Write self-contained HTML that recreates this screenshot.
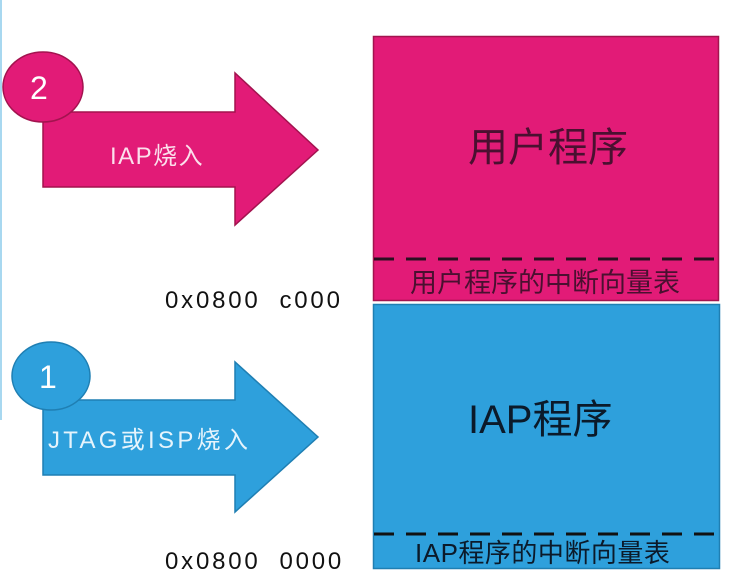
<!DOCTYPE html>
<html><head><meta charset="utf-8"><style>
body{margin:0;width:730px;height:580px;background:#fff;position:relative;overflow:hidden;font-family:"Liberation Sans","Noto Sans CJK SC",sans-serif}
.t{position:absolute;white-space:nowrap;line-height:1}
</style></head><body>
<div style="position:absolute;left:0;top:0;width:2px;height:420px;background:#a8d8f0"></div>
<svg width="730" height="580" style="position:absolute;left:0;top:0">
<polygon points="43,112 235,112 235,73 318,150 235,225 235,187 43,187" fill="#e21b77" stroke="#a3134f" stroke-width="1.5"/>
<ellipse cx="43" cy="87" rx="40" ry="35" fill="#e21b77" stroke="#a3134f" stroke-width="1.5"/>
<polygon points="43,400 235,400 235,362 318,437 235,512 235,475 43,475" fill="#2ea0dc" stroke="#1f7fb3" stroke-width="1.5"/>
<ellipse cx="51" cy="376" rx="39" ry="34" fill="#2ea0dc" stroke="#1f7fb3" stroke-width="1.5"/>
<rect x="373.5" y="36.5" width="345" height="264" fill="#e21b77" stroke="#a3134f" stroke-width="1.5"/>
<line x1="374" y1="259" x2="718" y2="259" stroke="#2a1020" stroke-width="3" stroke-dasharray="20,12"/>
<rect x="373.5" y="304.5" width="346" height="264" fill="#2ea0dc" stroke="#1f7fb3" stroke-width="1.5"/>
<line x1="374" y1="534" x2="719" y2="534" stroke="#111" stroke-width="3" stroke-dasharray="20,12"/>
</svg>
<div class="t" style="left:30px;top:72px;font-size:32px;color:#fff">2</div>
<div class="t" style="left:39px;top:361px;font-size:32px;color:#fff">1</div>
<div class="t" style="left:110px;top:145px;font-size:24px;letter-spacing:1.5px;color:#fbe0ec">IAP烧入</div>
<div class="t" style="left:48px;top:429px;font-size:24px;letter-spacing:3.3px;color:#e6f4fc">JTAG或ISP烧入</div>
<div class="t" style="left:468px;top:128px;font-size:40px;color:#4a1030">用户程序</div>
<div class="t" style="left:410px;top:270px;font-size:27px;color:#4a1030">用户程序的中断向量表</div>
<div class="t" style="left:468px;top:400px;font-size:40px;color:#0b1a2a">IAP程序</div>
<div class="t" style="left:415px;top:540px;font-size:26px;letter-spacing:0.5px;color:#0b1a2a">IAP程序的中断向量表</div>
<div class="t" style="left:165px;top:289px;font-size:24px;letter-spacing:2.8px;color:#111">0x0800&nbsp;&nbsp;c000</div>
<div class="t" style="left:165px;top:550px;font-size:24px;letter-spacing:2.8px;color:#111">0x0800&nbsp;&nbsp;0000</div>
</body></html>
